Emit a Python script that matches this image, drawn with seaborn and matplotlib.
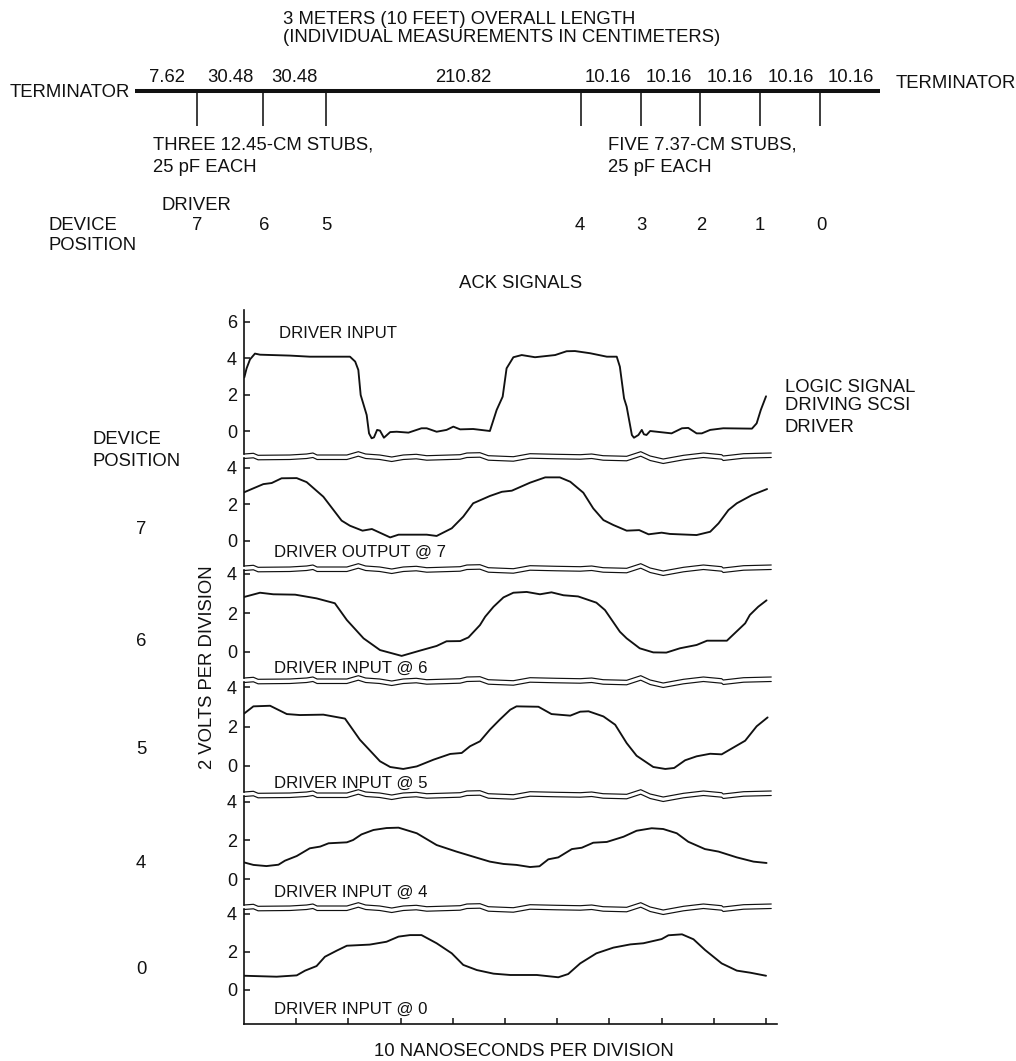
import matplotlib
matplotlib.use("Agg")
import matplotlib.pyplot as plt
import seaborn as sns

FIG_W, FIG_H = 1016, 1061

# traces: time in ns, level in volts
t_input = [0.06, 0.5, 1.15, 2.1, 3.07, 8.8, 12.6, 20.3, 21.3, 21.9, 22.35, 23.5, 23.95, 24.45, 24.9, 25.5,
           26.05, 26.8, 28, 29.25, 31.5, 34, 35, 36.9, 38.8, 40.1, 41.4, 43.9, 47.1, 48.4, 49.55, 50.3,
           51.6, 53.2, 55.75, 59.6, 61.8, 63.4, 66.3, 69.5, 71.4, 72, 72.8, 73.3, 74.3, 74.7, 75.55, 76.2,
           76.6, 77.1, 77.8, 81.9, 83.9, 85.1, 86.7, 87.7, 89.3, 91.8, 97.3, 98.2, 99, 100]
v_input = [2.95, 3.45, 3.94, 4.26, 4.2, 4.15, 4.09, 4.09, 3.82, 3.36, 1.98, 0.88, -0.13, -0.4, -0.35, 0.06,
           0.02, -0.37, -0.06, -0.04, -0.09, 0.15, 0.15, -0.04, 0.06, 0.24, 0.09, 0.11, 0, 1.16, 1.89, 3.45,
           4.06, 4.18, 4.06, 4.18, 4.39, 4.4, 4.28, 4.09, 4.09, 3.54, 1.8, 1.34, -0.22, -0.37, -0.22, 0.06,
           -0.18, -0.22, 0, -0.13, 0.15, 0.17, -0.13, -0.13, 0.06, 0.15, 0.13, 0.42, 1.16, 1.91]

t_dev7 = [0, 1.8, 3.7, 5.3, 7.2, 10.1, 12, 15.2, 18.7, 20.3, 22.7, 24.5, 28, 29.6, 35, 36.9, 39.8, 42, 43.9,
          47.1, 49.4, 51.3, 54.8, 57.7, 60.5, 62.5, 65, 66.9, 68.85, 70.75, 73.3, 75.7, 77.5, 80, 81.6,
          86.7, 89.3, 90.9, 92.8, 94.4, 97.3, 100.2]
v_dev7 = [2.65, 2.87, 3.1, 3.16, 3.42, 3.43, 3.21, 2.41, 1.1, 0.82, 0.55, 0.64, 0.18, 0.33, 0.33, 0.26, 0.68, 1.32, 2.05,
          2.45, 2.68, 2.74, 3.18, 3.47, 3.47, 3.23, 2.63, 1.77, 1.13, 0.86, 0.55, 0.58, 0.35, 0.44, 0.37,
          0.31, 0.49, 0.95, 1.68, 2.05, 2.5, 2.83]

t_dev6 = [0, 3.07, 5.6, 9.8, 13.9, 17.4, 19.7, 22.9, 26.05, 30.2, 33.7, 36.9, 38.8, 41.4, 43, 45.2, 46.2,
          47.8, 49.7, 51.6, 54.15, 56.7, 58.9, 61.2, 64, 67.5, 69.15, 72, 73.3, 75.8, 78.4, 80.9, 83.5,
          86.7, 88.7, 92.5, 96, 96.9, 98.5, 100.1]
v_dev6 = [2.82, 3.04, 2.96, 2.94, 2.75, 2.5, 1.64, 0.7, 0.1, -0.2, 0.07, 0.31, 0.55, 0.56, 0.75, 1.38, 1.81,
          2.32, 2.8, 3.04, 3.08, 2.96, 3.06, 2.91, 2.85, 2.53, 2.15, 1.04, 0.7, 0.19, -0.02, -0.03, 0.19,
          0.36, 0.58, 0.58, 1.47, 1.9, 2.32, 2.65]

t_dev5 = [0, 1.8, 5, 8.2, 10.7, 15.2, 19.35, 22.2, 26.05, 28, 30.5, 33.1, 36.3, 39.5, 41.7, 43.3, 45.2,
          47.1, 49, 51, 52.2, 56.4, 58.9, 62.5, 64.4, 66, 68.85, 71.1, 73.3, 75.2, 78.4, 80.7, 82.4, 84.5,
          86.7, 89.3, 91.5, 96, 98.2, 100.3]
v_dev5 = [2.65, 3.02, 3.05, 2.63, 2.58, 2.6, 2.4, 1.33, 0.24, -0.05, -0.15, -0.02, 0.32, 0.61, 0.66, 1, 1.25,
          1.84, 2.35, 2.85, 3.02, 3, 2.63, 2.55, 2.75, 2.77, 2.51, 2.09, 1.16, 0.52, -0.05, -0.15, -0.1, 0.29,
          0.49, 0.62, 0.59, 1.28, 2.01, 2.46]

t_dev4 = [0, 1.8, 4.3, 6.6, 7.85, 10.1, 12.6, 14.6, 16.2, 19.7, 20.9, 22.5, 24.8, 27.3, 29.6, 33.1, 36.9,
          40.7, 44.5, 47.1, 49.7, 52.2, 54.8, 56.6, 58.3, 60.2, 62.8, 64.7, 66.9, 69.5, 72.7, 75.2, 78.1,
          80.3, 82.9, 85.1, 88.3, 90.9, 94.4, 97.6, 100.1]
v_dev4 = [0.86, 0.73, 0.67, 0.74, 0.95, 1.19, 1.59, 1.68, 1.85, 1.9, 2.02, 2.31, 2.54, 2.64, 2.66, 2.37, 1.76,
          1.42, 1.11, 0.9, 0.78, 0.73, 0.62, 0.66, 1.02, 1.12, 1.55, 1.62, 1.88, 1.92, 2.19, 2.5, 2.63,
          2.59, 2.37, 1.93, 1.55, 1.42, 1.12, 0.9, 0.83]

t_dev0 = [0, 6.25, 10.1, 11.7, 13.9, 15.5, 17.75, 19.7, 24.1, 27.3, 29.6, 31.8, 34, 36.9, 39.8, 42, 44.6, 47.8,
          51, 56.1, 60.2, 62.1, 64.4, 67.5, 70.75, 74, 76.5, 80, 81.3, 83.9, 86.1, 88.3, 91.5, 94.4, 97, 100]
v_dev0 = [0.75, 0.7, 0.77, 1.02, 1.26, 1.75, 2.07, 2.33, 2.39, 2.54, 2.81, 2.89, 2.89, 2.46, 1.93, 1.32, 1.05, 0.86,
          0.79, 0.79, 0.67, 0.84, 1.4, 1.93, 2.23, 2.4, 2.46, 2.68, 2.88, 2.93, 2.67, 2.11, 1.4, 1.02, 0.91, 0.75]

traces = [(t_input, v_input), (t_dev7, v_dev7), (t_dev6, v_dev6),
          (t_dev5, v_dev5), (t_dev4, v_dev4), (t_dev0, v_dev0)]

# scale break squiggle shared by all panels
break_t = [0, 1.8, 2.7, 8.8, 12, 13.2, 14, 19.7, 21.9, 23.3, 26, 28.3, 30.5, 33, 35, 41.4, 42.7, 45.2, 46.8,
           51.6, 54.8, 59.9, 64.4, 66.6, 68.8, 73.3, 76, 77.8, 80.3, 84.2, 88, 91.5, 91.8, 95.7, 101]
break_off = [-1, -1.7, 0.3, 0, -1, -2, 0, 0, -3.3, -1, 0, 2, 0, -0.7, 0.7, -0.3, -2, -2.3, 0.7,
             1.7, -1.3, -0.7, -0.3, -1, 0.7, 1.3, -3.3, 1, 4, 0.3, -2, -0.3, 1, -1.3, -2]

# panel geometry in figure pixels
axis_left, axis_right = 244, 777
ns_per_axis = 102.1
panel_top = [310, 458, 570, 682, 796, 909]
panel_bottom = [454, 566, 678, 792, 905, 1024]
zero_px = [431, 540.7, 652, 766, 879, 990]
px_per_volt = [18.17, 18.25, 19.5, 19.75, 19.3, 19]
time_ticks = [10, 20, 30, 40, 50, 60, 70, 80, 90, 100]

# cable diagram
stub_x = [197, 263, 326, 581, 641, 700, 760, 820]
seg_labels = ["7.62", "30.48", "30.48", "210.82", "10.16", "10.16", "10.16", "10.16", "10.16"]
seg_x = [166.5, 230, 294, 463, 608, 669, 730, 791, 851]
dev_labels = ["7", "6", "5", "4", "3", "2", "1", "0"]
dev_x = [197, 264, 326, 580, 641, 701, 760, 821]
side_labels = ["7", "6", "5", "4", "0"]
side_y = [528, 639, 748, 861, 968]
trace_names = ["DRIVER INPUT", "DRIVER OUTPUT @ 7", "DRIVER INPUT @ 6",
               "DRIVER INPUT @ 5", "DRIVER INPUT @ 4", "DRIVER INPUT @ 0"]
trace_name_x = [279, 274, 274, 274, 274, 274]
trace_name_y = [332, 551, 667, 782, 891, 1008]

sns.set_theme(style="white")
plt.rcParams["font.family"] = ["Liberation Sans", "DejaVu Sans"]
INK = "#111111"

fig = plt.figure(figsize=(FIG_W / 100, FIG_H / 100), dpi=100, facecolor="white")

for i, (t, v) in enumerate(traces):
    rect = [axis_left / FIG_W, 1 - panel_bottom[i] / FIG_H,
            (axis_right - axis_left) / FIG_W, (panel_bottom[i] - panel_top[i]) / FIG_H]
    ax = fig.add_axes(rect, facecolor="none")
    sns.lineplot(x=t, y=v, ax=ax, color=INK, linewidth=1.35, estimator=None, sort=False)
    scale = px_per_volt[i]
    y_top = (zero_px[i] - panel_top[i]) / scale
    y_bot = (zero_px[i] - panel_bottom[i]) / scale
    ax.set_xlim(0, ns_per_axis)
    ax.set_ylim(y_bot, y_top)

    # double line scale break above every panel but the first
    if i > 0:
        upper = [y_top + (3 - o) / scale for o in break_off]
        lower = [y_top + (-1.5 - o) / scale for o in break_off]
        for line in (upper, lower):
            sns.lineplot(x=break_t, y=line, ax=ax, color=INK, linewidth=0.85,
                         estimator=None, sort=False, clip_on=False)

    ax.set_yticks([0, 2, 4, 6] if i == 0 else [0, 2, 4])
    ax.tick_params(axis="y", direction="in", length=4, width=1.1, pad=5,
                   labelsize=13, colors=INK, left=True)
    ax.set_xlabel("")
    ax.set_ylabel("")
    for side in ["top", "right"]:
        ax.spines[side].set_visible(False)
    ax.spines["left"].set_linewidth(1.2)
    ax.spines["left"].set_color(INK)
    if i == len(traces) - 1:
        ax.set_xticks(time_ticks)
        ax.set_xticklabels([])
        ax.tick_params(axis="x", direction="in", length=4, width=1.1, bottom=True, colors=INK)
        ax.spines["bottom"].set_linewidth(1.2)
        ax.spines["bottom"].set_color(INK)
    else:
        ax.set_xticks([])
        ax.spines["bottom"].set_visible(False)

# overlay in pixel units for the diagram and the free text
ov = fig.add_axes([0, 0, 1, 1], facecolor="none", zorder=5)
ov.set_xlim(0, FIG_W)
ov.set_ylim(FIG_H, 0)
ov.axis("off")

ov.plot([135, 880], [90.5, 90.5], color=INK, linewidth=2.9, solid_capstyle="butt")
ov.vlines(stub_x, 90, 126, color=INK, linewidth=1.15)


def label(x, y, s, ha="left", size=13.3, **kw):
    ov.text(x, y, s, ha=ha, va="center_baseline", fontsize=size, color=INK, **kw)


label(283, 17, "3 METERS (10 FEET) OVERALL LENGTH")
label(283, 36, "(INDIVIDUAL MEASUREMENTS IN CENTIMETERS)")
label(10, 90.5, "TERMINATOR")
label(896, 82, "TERMINATOR")
for x, s in zip(seg_x, seg_labels):
    label(x, 75, s, ha="center")
label(153, 143, "THREE 12.45-CM STUBS,")
label(153, 165, "25 pF EACH")
label(608, 143, "FIVE 7.37-CM STUBS,")
label(608, 165, "25 pF EACH")
label(196.5, 204, "DRIVER", ha="center")
for x, s in zip(dev_x, dev_labels):
    label(x, 223, s, ha="center")
label(49, 223, "DEVICE")
label(49, 243, "POSITION")
label(521, 281, "ACK SIGNALS", ha="center")

for x, y, s in zip(trace_name_x, trace_name_y, trace_names):
    label(x, y, s, size=12.1)
label(785, 385, "LOGIC SIGNAL")
label(785, 404, "DRIVING SCSI")
label(785, 425, "DRIVER")
label(93, 438, "DEVICE")
label(93, 459, "POSITION")
for y, s in zip(side_y, side_labels):
    label(141, y, s, ha="center")
label(205, 769, "2 VOLTS PER DIVISION", rotation=90, rotation_mode="anchor")
label(524, 1050, "10 NANOSECONDS PER DIVISION", ha="center")

plt.savefig("out.png", dpi=100)
plt.close()
